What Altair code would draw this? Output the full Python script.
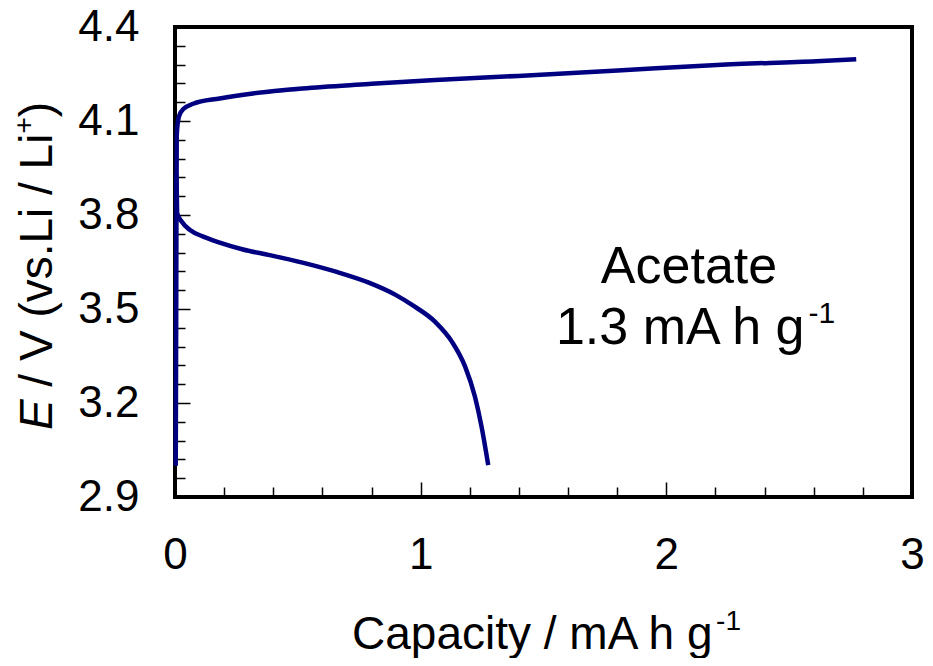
import altair as alt
import pandas as pd

# ---------------- data ----------------
charge_x = [0.003, 0.005, 0.007, 0.013, 0.020, 0.034, 0.074, 0.182, 0.317, 0.519,
            0.789, 1.060, 1.397, 1.802, 2.206, 2.611, 2.773]
charge_y = [3.000, 3.500, 4.050, 4.103, 4.122, 4.138, 4.155, 4.172, 4.188, 4.204,
            4.218, 4.231, 4.244, 4.261, 4.279, 4.291, 4.297]

discharge_x = [0.005, 0.007, 0.009, 0.027, 0.061, 0.115, 0.182, 0.277, 0.385, 0.519,
               0.655, 0.789, 0.898, 0.965, 1.059, 1.127, 1.181, 1.221, 1.248, 1.275]
discharge_y = [3.930, 3.880, 3.805, 3.779, 3.752, 3.731, 3.712, 3.690, 3.672, 3.648,
               3.619, 3.584, 3.545, 3.513, 3.459, 3.396, 3.316, 3.220, 3.124, 3.002]

x_label_values = [0, 1, 2, 3]
y_label_values = [2.9, 3.2, 3.5, 3.8, 4.1, 4.4]
x_tick_values = [round(0.2 * k, 2) for k in range(16)]
y_tick_values = [round(2.9 + 0.06 * k, 2) for k in range(26)]

x_title_main = ["Capacity / mA h g"]
x_title_sup = ["-1"]
y_title_italic = ["E"]
y_title_main = ["/ V (vs.Li / Li"]
y_title_sup = ["+"]
y_title_end = [")"]
note_line1 = ["Acetate"]
note_line2_main = ["1.3 mA h g"]
note_line2_sup = ["-1"]

# ---------------- layout ----------------
W, H = 737, 470
FONT = "Liberation Sans"
NAVY = "#000080"
FS_TICK, FS_TITLE, FS_SUP, FS_NOTE, FS_NOTE_SUP = 44, 46, 28, 52, 30

# Arial / Liberation Sans advance widths (per em)
AW = {'C': .722, 'a': .556, 'p': .556, 'c': .5, 'i': .222, 't': .278, 'y': .5, ' ': .278,
      '/': .278, 'm': .833, 'A': .667, 'h': .556, 'g': .556, 'E': .667, 'V': .667,
      '(': .333, ')': .333, 'v': .5, 's': .5, '.': .278, 'L': .556, '+': .584,
      '-': .333, '1': .556, '3': .556, 'e': .556}


def tw(s, fs):
    return sum(AW.get(ch, .556) for ch in s) * fs


df = pd.concat([
    pd.DataFrame({"cap": charge_x, "E": charge_y, "run": "charge", "i": range(len(charge_x))}),
    pd.DataFrame({"cap": discharge_x, "E": discharge_y, "run": "discharge", "i": range(len(discharge_x))}),
])

xs = alt.Scale(domain=[0, 3], nice=False, zero=False)
ys = alt.Scale(domain=[2.9, 4.4], nice=False, zero=False)

label_x_axis = alt.Axis(values=x_label_values, format="d", labelFontSize=FS_TICK, labelFont=FONT,
                        labelColor="black", ticks=False, tickSize=0, domain=False, grid=False,
                        title=None, labelPadding=36, labelFlush=False)
label_y_axis = alt.Axis(values=y_label_values, format=".1f", labelFontSize=FS_TICK, labelFont=FONT,
                        labelColor="black", ticks=False, tickSize=0, domain=False, grid=False,
                        title=None, labelPadding=36, labelFlush=False)

tick_x_axis = alt.Axis(orient="top", offset=-H, values=x_tick_values, labels=False, domain=False,
                       grid=False, title=None, tickColor="black", tickWidth=1.5,
                       tickSize={"condition": {"test": "abs(datum.value - round(datum.value)) < 0.01",
                                               "value": 15}, "value": 10})
tick_y_axis = alt.Axis(orient="right", offset=-W, values=y_tick_values, labels=False, domain=False,
                       grid=False, title=None, tickColor="black", tickWidth=1.5,
                       tickSize={"condition": {"test": "abs((datum.value - 2.9) / 0.3 - round((datum.value - 2.9) / 0.3)) < 0.02",
                                               "value": 15}, "value": 10})

lines_a = alt.Chart(df).mark_line(color=NAVY, strokeWidth=4.5, interpolate="monotone").encode(
    x=alt.X("cap:Q", scale=xs, axis=label_x_axis),
    y=alt.Y("E:Q", scale=ys, axis=label_y_axis),
    detail="run:N",
    order="i:Q",
)
lines_b = alt.Chart(df).mark_line(color=NAVY, strokeWidth=4.5, interpolate="monotone", opacity=0).encode(
    x=alt.X("cap:Q", scale=xs, axis=tick_x_axis),
    y=alt.Y("E:Q", scale=ys, axis=tick_y_axis),
    detail="run:N",
    order="i:Q",
)


def text_layer(strings, x, y, fs, align="left", angle=0, italic=False, baseline="alphabetic"):
    kw = dict(font=FONT, fontSize=fs, align=align, baseline=baseline, color="black")
    if angle:
        kw["angle"] = angle
    if italic:
        kw["fontStyle"] = "italic"
    return alt.Chart(pd.DataFrame({"t": strings})).mark_text(**kw).encode(
        text="t:N", x=alt.value(x), y=alt.value(y))


SP = tw(" ", FS_TITLE)

# x title
xt_w1 = tw(x_title_main[0], FS_TITLE)
xt_w2 = tw(x_title_sup[0], FS_SUP)
xt_cx = 371
xt_left = xt_cx - (xt_w1 + xt_w2) / 2
xt_base = 622
x_title = [
    text_layer(x_title_main, xt_left, xt_base, FS_TITLE),
    text_layer(x_title_sup, xt_left + xt_w1 + 1, xt_base - 19, FS_SUP),
]

# y title (rotated, reading upwards)
yt_base_x = -123
w_e = tw(y_title_italic[0], FS_TITLE) + SP
w_m = tw(y_title_main[0], FS_TITLE)
w_p = tw(y_title_sup[0], FS_SUP)
w_c = tw(y_title_end[0], FS_TITLE)
yt_total = w_e + w_m + w_p + w_c
yt_start = 239 + yt_total / 2
y_title = [
    text_layer(y_title_italic, yt_base_x, yt_start, FS_TITLE, angle=270, italic=True),
    text_layer(y_title_main, yt_base_x, yt_start - w_e, FS_TITLE, angle=270),
    text_layer(y_title_sup, yt_base_x - 19, yt_start - w_e - w_m, FS_SUP, angle=270),
    text_layer(y_title_end, yt_base_x, yt_start - w_e - w_m - w_p, FS_TITLE, angle=270),
]

# annotation
n1 = text_layer(note_line1, 514, 256, FS_NOTE, align="center")
n2_w1 = tw(note_line2_main[0], FS_NOTE)
n2_w2 = tw(note_line2_sup[0], FS_NOTE_SUP)
n2_left = 520 - (n2_w1 + n2_w2) / 2
n2 = [
    text_layer(note_line2_main, n2_left, 317, FS_NOTE),
    text_layer(note_line2_sup, n2_left + n2_w1 + 1, 317 - 21, FS_NOTE_SUP),
]

chart = alt.layer(lines_b, lines_a, *x_title, *y_title, n1, *n2).resolve_axis(
    x="independent", y="independent"
).properties(
    width=W, height=H,
    autosize=alt.AutoSizeParams(type="none"),
    padding={"left": 167, "top": 19, "right": 13, "bottom": 161},
).configure_view(stroke="black", strokeWidth=4)

chart.save("out.html", embed_options={"renderer": "svg", "actions": False})
